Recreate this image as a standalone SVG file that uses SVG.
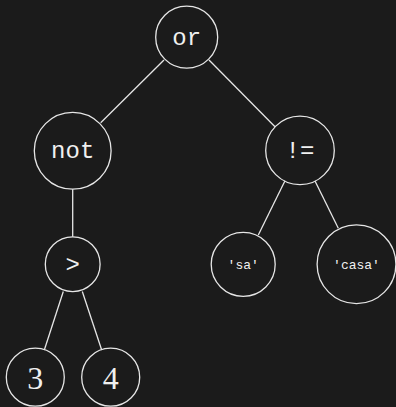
<svg xmlns="http://www.w3.org/2000/svg" width="396" height="407" viewBox="0 0 396 407">
<style>
.n{fill:none;stroke:#e6e6e6;stroke-width:1.3}
.e{stroke:#e6e6e6;stroke-width:1.3;fill:none}
.m{font-family:"Liberation Mono","DejaVu Sans Mono",monospace;fill:#f0f0f0;text-anchor:middle;dominant-baseline:central}
.s{font-family:"Liberation Serif","DejaVu Serif",serif;fill:#f0f0f0;text-anchor:middle;dominant-baseline:central}
</style>
<rect width="396" height="407" fill="#1b1b1b"/>
<g id="edges">
<line class="e" x1="164" y1="60" x2="100.7" y2="122.7"/>
<line class="e" x1="209" y1="60" x2="275" y2="126.7"/>
<line class="e" x1="72.7" y1="189.3" x2="72.7" y2="236.7"/>
<line class="e" x1="63.3" y1="291.5" x2="44.3" y2="350"/>
<line class="e" x1="82.3" y1="291.5" x2="101.7" y2="350"/>
<line class="e" x1="285" y1="180.7" x2="258.3" y2="235"/>
<line class="e" x1="315" y1="181" x2="338.3" y2="228.3"/>
</g>
<g id="or"><circle class="n" cx="186.7" cy="37.2" r="31"/><text class="m" x="186.7" y="38" font-size="24">or</text></g>
<g id="not"><circle class="n" cx="72.7" cy="150.8" r="38.4"/><text class="m" x="72.7" y="151" font-size="24">not</text></g>
<g id="neq"><circle class="n" cx="300" cy="150.4" r="34.3"/><text class="m" x="300" y="151" font-size="24">!=</text></g>
<g id="gt"><circle class="n" cx="72.7" cy="264.2" r="27.4"/><text class="m" x="72.7" y="265" font-size="24">&gt;</text></g>
<g id="sa"><circle class="n" cx="243.2" cy="264.3" r="32"/><text class="m" x="243.2" y="265" font-size="13">'sa'</text></g>
<g id="casa"><circle class="n" cx="356.5" cy="264.3" r="39.4"/><text class="m" x="356.5" y="265" font-size="13">'casa'</text></g>
<g id="n3"><circle class="n" cx="35.3" cy="377.2" r="29"/><text class="s" x="35.3" y="378" font-size="32">3</text></g>
<g id="n4"><circle class="n" cx="110.7" cy="377.2" r="29"/><text class="s" x="110.7" y="378" font-size="32">4</text></g>
</svg>
